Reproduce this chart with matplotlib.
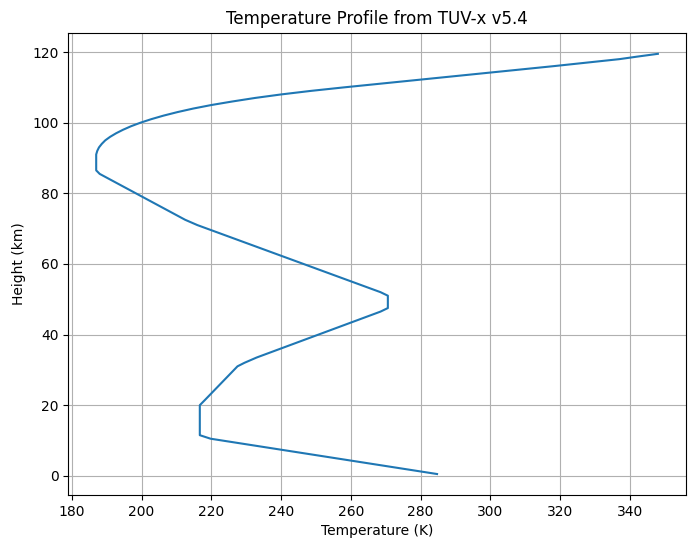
import matplotlib
matplotlib.use("Agg")
import matplotlib.pyplot as plt

height_km = [0.5, 10.5, 11.5, 20.0, 21.5, 31.0, 32.0, 33.5, 46.5, 47.5, 51.0, 52.0,
             71.0, 72.5, 85.5, 86.5, 91.0, 92.0, 93.0, 94.0, 95.0, 96.0, 97.0, 98.0, 99.0,
             100.0, 101.0, 102.0, 103.0, 104.0, 105.0, 106.0, 107.0, 108.0, 109.0, 110.0,
             111.0, 112.0, 113.0, 114.0, 115.0, 116.0, 117.0, 118.0, 118.7, 119.5]
temperature_k = [284.7, 219.8, 216.7, 216.7, 218.2, 227.5, 229.5, 233.0, 268.5, 270.6, 270.6, 268.5,
                 216.0, 212.5, 188.0, 187.0, 187.0, 187.3, 187.8, 188.6, 189.6, 191.0, 192.7, 194.7, 197.0,
                 199.7, 202.8, 206.3, 210.3, 214.8, 220.0, 226.0, 232.5, 240.0, 248.5, 258.0,
                 268.0, 278.0, 288.0, 298.0, 308.0, 318.0, 327.5, 337.0, 342.0, 348.0]

fig, ax = plt.subplots(figsize=(6.95, 5.47), dpi=100)
ax.plot(temperature_k, height_km)
ax.set_xlabel("Temperature (K)")
ax.set_ylabel("Height (km)")
ax.set_title("Temperature Profile from TUV-x v5.4")
ax.grid(True)
fig.subplots_adjust(left=0.098, right=0.987, top=0.94, bottom=0.095)
fig.savefig("out.png")
